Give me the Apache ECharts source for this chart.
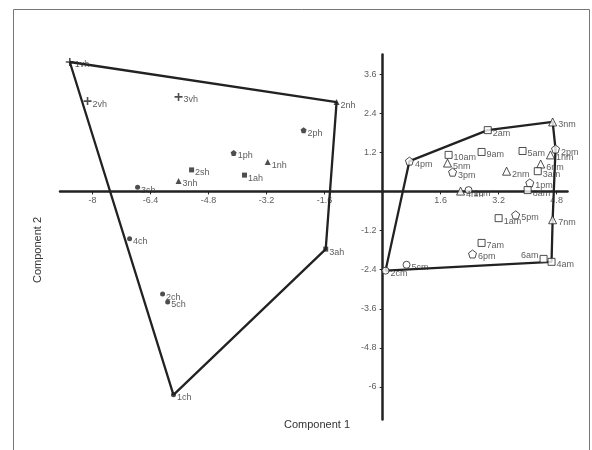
<!DOCTYPE html>
<html>
<head>
<meta charset="utf-8">
<script src="https://cdn.jsdelivr.net/npm/echarts@6/dist/echarts.min.js"></script>
<style>
  html, body { margin: 0; padding: 0; background: #fff; }
  #chart { width: 592px; height: 450px; }
</style>
</head>
<body>
<div id="chart"></div>
<script>
// group h (left hull)
const leftNames = ['1vh', '2vh', '3vh', '1ph', '2ph', '1nh', '2nh', '3nh', '1ah', '2sh', '3ah', '3ch', '4ch', '2ch', '5ch', '1ch'];
const leftX = [-8.63, -8.14, -5.63, -4.11, -2.18, -3.17, -1.27, -5.63, -3.81, -5.27, -1.57, -6.76, -6.98, -6.07, -5.93, -5.77];
const leftY = [3.97, 2.77, 2.90, 1.18, 1.88, 0.90, 2.74, 0.32, 0.50, 0.66, -1.77, 0.13, -1.45, -3.15, -3.39, -6.24];

// group m (right hull)
const rightNames = ['4pm', '2am', '3nm', '2pm', '1nm', '10am', '5nm', '3pm', '9am', '5am', '6nm', '3am', '2nm', '1pm', '8am', '4nm', '1cm', '1am', '5pm', '7nm', '7am', '6pm', '6am', '4am', '5cm', '2cm'];
const rightX = [0.74, 2.90, 4.69, 4.77, 4.63, 1.82, 1.79, 1.93, 2.73, 3.86, 4.36, 4.28, 3.42, 4.06, 4.00, 2.15, 2.37, 3.20, 3.67, 4.69, 2.73, 2.48, 4.44, 4.66, 0.66, 0.08];
const rightY = [0.93, 1.88, 2.13, 1.30, 1.12, 1.12, 0.87, 0.59, 1.21, 1.24, 0.84, 0.62, 0.62, 0.26, 0.04, 0.01, 0.04, -0.82, -0.72, -0.87, -1.58, -1.92, -2.07, -2.16, -2.25, -2.43];

// hull outlines, by point name
const leftHull = ['1vh', '2nh', '3ah', '1ch', '1vh'];
const rightHull = ['2cm', '4pm', '2am', '3nm', '2pm', '7nm', '4am', '2cm'];

const xTicks = [-8, -6.4, -4.8, -3.2, -1.6, 1.6, 3.2, 4.8];
const yTicks = [3.6, 2.4, 1.2, -1.2, -2.4, -3.6, -4.8, -6];

const FONT = 'Liberation Sans, Arial, sans-serif';
const INK = '#222';

const SYMBOLS = {
  v: {symbol: 'path://M4,0H6V4H10V6H6V10H4V6H0V4H4Z', size: 8},
  p: {symbol: 'path://M5,0L10,3.6L8.1,9.5L1.9,9.5L0,3.6Z', size: 6},
  c: {symbol: 'circle', size: 5},
  a: {symbol: 'rect', size: 5},
  s: {symbol: 'rect', size: 5},
  n: {symbol: 'triangle', size: 6}
};

function buildPoints(names, xs, ys) {
  return names.map((n, i) => {
    const code = n.slice(-2, -1);
    const hollow = n.endsWith('m');
    const sym = SYMBOLS[code];
    const item = {
      name: n,
      value: [xs[i], ys[i]],
      symbol: sym.symbol,
      symbolSize: hollow ? sym.size + 2 : sym.size,
      itemStyle: hollow
        ? {color: '#fff', borderColor: INK, borderWidth: 1}
        : {color: INK}
    };
    if (n === '6am') item.label = {position: 'left', offset: [0, -3]};
    return item;
  });
}

function hullLine(order, names, xs, ys) {
  return order.map(n => {
    const i = names.indexOf(n);
    return [xs[i], ys[i]];
  });
}

const chart = echarts.init(document.getElementById('chart'), null, {renderer: 'canvas'});

const labelStyle = {
  show: true,
  formatter: '{b}',
  position: 'right',
  distance: 1,
  offset: [0, 3],
  fontSize: 9,
  color: '#333',
  fontFamily: FONT
};

const tickText = {fontSize: 9, color: '#333', fontFamily: FONT};

chart.setOption({
  animation: false,
  backgroundColor: '#fff',
  grid: {left: 60, right: 24.5, top: 54.5, bottom: 30.4, containLabel: false},
  xAxis: {
    type: 'value',
    min: -8.9,
    max: 5.1,
    axisLine: {onZero: true, lineStyle: {color: INK, width: 2.5}},
    axisTick: {show: true, length: 3, customValues: xTicks, lineStyle: {color: INK}},
    axisLabel: {show: false},
    splitLine: {show: false}
  },
  yAxis: {
    type: 'value',
    min: -7.0,
    max: 4.2,
    axisLine: {onZero: true, lineStyle: {color: INK, width: 2.5}},
    axisTick: {show: true, length: 3, customValues: yTicks, lineStyle: {color: INK}},
    axisLabel: {show: false},
    splitLine: {show: false}
  },
  graphic: [
    {
      type: 'rect',
      shape: {x: 13.5, y: 9.5, width: 576, height: 460},
      style: {fill: 'none', stroke: '#777', lineWidth: 1},
      silent: true
    },
    {
      type: 'text',
      x: 317,
      y: 425,
      style: {text: 'Component 1', fill: '#333', font: '11px ' + FONT, textAlign: 'center', textVerticalAlign: 'middle'}
    },
    {
      type: 'text',
      x: 38,
      y: 250,
      rotation: Math.PI / 2,
      style: {text: 'Component 2', fill: '#333', font: '11px ' + FONT, textAlign: 'center', textVerticalAlign: 'middle'}
    }
  ],
  series: [
    // tick labels that sit along the zero lines
    {
      type: 'scatter',
      data: xTicks.map(v => ({name: String(v), value: [v, 0]})),
      symbolSize: 0,
      silent: true,
      label: {show: true, formatter: '{b}', position: 'bottom', distance: 5, ...tickText},
      z: 1
    },
    {
      type: 'scatter',
      data: yTicks.map(v => ({name: String(v), value: [0, v]})),
      symbolSize: 0,
      silent: true,
      label: {show: true, formatter: '{b}', position: 'left', distance: 6, ...tickText},
      z: 1
    },
    {
      type: 'line',
      data: hullLine(leftHull, leftNames, leftX, leftY),
      symbol: 'none',
      lineStyle: {color: INK, width: 2.3},
      z: 2
    },
    {
      type: 'line',
      data: hullLine(rightHull, rightNames, rightX, rightY),
      symbol: 'none',
      lineStyle: {color: INK, width: 2.3},
      z: 2
    },
    {
      type: 'scatter',
      data: buildPoints(leftNames, leftX, leftY),
      label: labelStyle,
      z: 3
    },
    {
      type: 'scatter',
      data: buildPoints(rightNames, rightX, rightY),
      label: labelStyle,
      z: 3
    }
  ]
});
</script>
</body>
</html>
